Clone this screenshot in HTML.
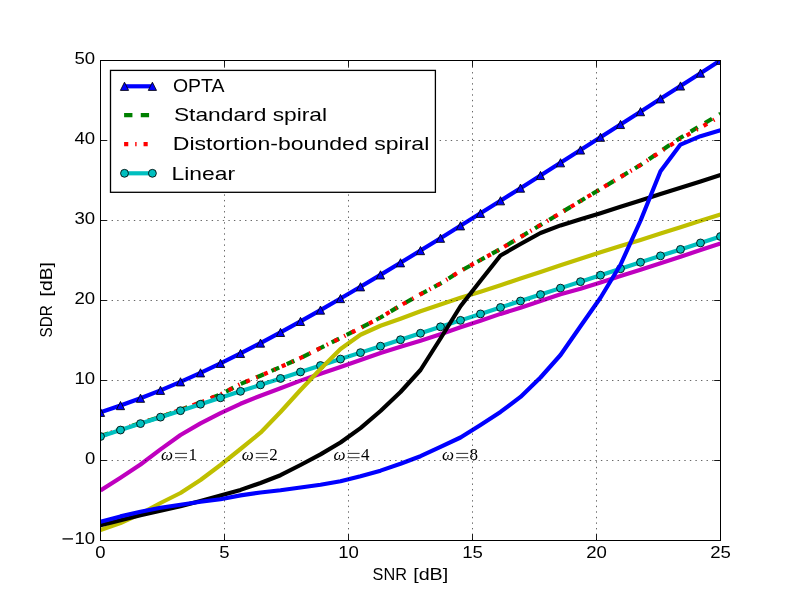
<!DOCTYPE html>
<html><head><meta charset="utf-8"><title>SDR vs SNR</title>
<style>html,body{margin:0;padding:0;background:#fff}svg{display:block;will-change:transform}text{font-family:"Liberation Sans",sans-serif;fill:#000}.m{font-family:"Liberation Serif",serif}</style></head><body>
<svg width="800" height="600" viewBox="0 0 800 600">
<rect x="0" y="0" width="800" height="600" fill="#ffffff"/>
<defs><clipPath id="ax"><rect x="100.5" y="60.5" width="620" height="480"/></clipPath></defs>
<g clip-path="url(#ax)" fill="none" stroke-linejoin="round">
<polyline points="100.50,412.34 120.50,405.58 140.50,398.24 160.50,390.32 180.50,381.84 200.50,372.84 220.50,363.36 240.50,353.43 260.50,343.09 280.50,332.40 300.50,321.39 320.50,310.09 340.50,298.55 360.50,286.80 380.50,274.87 400.50,262.79 420.50,250.58 440.50,238.25 460.50,225.83 480.50,213.33 500.50,200.76 520.50,188.14 540.50,175.47 560.50,162.76 580.50,150.02 600.50,137.25 620.50,124.46 640.50,111.65 660.50,98.83 680.50,85.99 700.50,73.14 720.50,60.28" stroke="#0000ff" stroke-width="4.17"/>
<g fill="#0000ff" stroke="#000" stroke-width="0.85" stroke-linejoin="miter">
<path d="M100.50 408.24 L96.40 416.44 L104.60 416.44 Z"/>
<path d="M120.50 401.48 L116.40 409.68 L124.60 409.68 Z"/>
<path d="M140.50 394.14 L136.40 402.34 L144.60 402.34 Z"/>
<path d="M160.50 386.22 L156.40 394.42 L164.60 394.42 Z"/>
<path d="M180.50 377.74 L176.40 385.94 L184.60 385.94 Z"/>
<path d="M200.50 368.74 L196.40 376.94 L204.60 376.94 Z"/>
<path d="M220.50 359.26 L216.40 367.46 L224.60 367.46 Z"/>
<path d="M240.50 349.33 L236.40 357.53 L244.60 357.53 Z"/>
<path d="M260.50 338.99 L256.40 347.19 L264.60 347.19 Z"/>
<path d="M280.50 328.30 L276.40 336.50 L284.60 336.50 Z"/>
<path d="M300.50 317.29 L296.40 325.49 L304.60 325.49 Z"/>
<path d="M320.50 305.99 L316.40 314.19 L324.60 314.19 Z"/>
<path d="M340.50 294.45 L336.40 302.65 L344.60 302.65 Z"/>
<path d="M360.50 282.70 L356.40 290.90 L364.60 290.90 Z"/>
<path d="M380.50 270.77 L376.40 278.97 L384.60 278.97 Z"/>
<path d="M400.50 258.69 L396.40 266.89 L404.60 266.89 Z"/>
<path d="M420.50 246.48 L416.40 254.68 L424.60 254.68 Z"/>
<path d="M440.50 234.15 L436.40 242.35 L444.60 242.35 Z"/>
<path d="M460.50 221.73 L456.40 229.93 L464.60 229.93 Z"/>
<path d="M480.50 209.23 L476.40 217.43 L484.60 217.43 Z"/>
<path d="M500.50 196.66 L496.40 204.86 L504.60 204.86 Z"/>
<path d="M520.50 184.04 L516.40 192.24 L524.60 192.24 Z"/>
<path d="M540.50 171.37 L536.40 179.57 L544.60 179.57 Z"/>
<path d="M560.50 158.66 L556.40 166.86 L564.60 166.86 Z"/>
<path d="M580.50 145.92 L576.40 154.12 L584.60 154.12 Z"/>
<path d="M600.50 133.15 L596.40 141.35 L604.60 141.35 Z"/>
<path d="M620.50 120.36 L616.40 128.56 L624.60 128.56 Z"/>
<path d="M640.50 107.55 L636.40 115.75 L644.60 115.75 Z"/>
<path d="M660.50 94.73 L656.40 102.93 L664.60 102.93 Z"/>
<path d="M680.50 81.89 L676.40 90.09 L684.60 90.09 Z"/>
<path d="M700.50 69.04 L696.40 77.24 L704.60 77.24 Z"/>
<path d="M720.50 56.18 L716.40 64.38 L724.60 64.38 Z"/>
</g>
<polyline points="100.50,436.00 120.50,429.50 140.50,423.00 160.50,416.90 180.50,409.80 200.50,402.40 220.50,394.40 240.50,384.00 260.50,375.75 280.50,367.00 300.50,358.00 320.50,348.00 340.50,338.00 360.50,328.00 380.50,317.50 400.50,305.50 420.50,294.25 440.50,283.50 460.50,271.00 480.50,260.00 500.50,249.00 520.50,237.00 540.50,225.00 560.50,213.00 580.50,201.00 600.50,189.00 620.50,177.00 640.50,165.00 660.50,151.25 680.50,137.75 700.50,125.60 720.50,113.75" stroke="#008000" stroke-width="4.17" stroke-dasharray="8.33 8.33"/>
<polyline points="100.50,436.00 120.50,429.50 140.50,423.00 160.50,416.90 180.50,409.80 200.50,402.40 220.50,394.40 240.50,384.00 260.50,375.75 280.50,367.00 300.50,358.00 320.50,348.00 340.50,338.00 360.50,328.00 380.50,317.50 400.50,305.50 420.50,294.25 440.50,283.50 460.50,271.00 480.50,260.00 500.50,249.00 520.50,237.00 540.50,225.00 560.50,213.00 580.50,201.00 600.50,189.00 620.50,177.00 640.50,165.00 660.50,151.75 680.50,138.95 700.50,127.60 720.50,116.05" stroke="#ff0000" stroke-width="4.17" stroke-dasharray="4.17 6.94 1.39 6.94"/>
<polyline points="100.50,436.50 120.50,430.05 140.50,423.60 160.50,417.15 180.50,410.69 200.50,404.24 220.50,397.79 240.50,391.34 260.50,384.89 280.50,378.44 300.50,371.98 320.50,365.53 340.50,359.08 360.50,352.63 380.50,346.18 400.50,339.73 420.50,333.27 440.50,326.82 460.50,320.37 480.50,313.92 500.50,307.47 520.50,301.02 540.50,294.56 560.50,288.11 580.50,281.66 600.50,275.21 620.50,268.76 640.50,262.31 660.50,255.85 680.50,249.40 700.50,242.95 720.50,236.50" stroke="#00bfbf" stroke-width="4.17"/>
<g fill="#00bfbf" stroke="#000" stroke-width="0.85">
<circle cx="100.50" cy="436.50" r="3.95"/>
<circle cx="120.50" cy="430.05" r="3.95"/>
<circle cx="140.50" cy="423.60" r="3.95"/>
<circle cx="160.50" cy="417.15" r="3.95"/>
<circle cx="180.50" cy="410.69" r="3.95"/>
<circle cx="200.50" cy="404.24" r="3.95"/>
<circle cx="220.50" cy="397.79" r="3.95"/>
<circle cx="240.50" cy="391.34" r="3.95"/>
<circle cx="260.50" cy="384.89" r="3.95"/>
<circle cx="280.50" cy="378.44" r="3.95"/>
<circle cx="300.50" cy="371.98" r="3.95"/>
<circle cx="320.50" cy="365.53" r="3.95"/>
<circle cx="340.50" cy="359.08" r="3.95"/>
<circle cx="360.50" cy="352.63" r="3.95"/>
<circle cx="380.50" cy="346.18" r="3.95"/>
<circle cx="400.50" cy="339.73" r="3.95"/>
<circle cx="420.50" cy="333.27" r="3.95"/>
<circle cx="440.50" cy="326.82" r="3.95"/>
<circle cx="460.50" cy="320.37" r="3.95"/>
<circle cx="480.50" cy="313.92" r="3.95"/>
<circle cx="500.50" cy="307.47" r="3.95"/>
<circle cx="520.50" cy="301.02" r="3.95"/>
<circle cx="540.50" cy="294.56" r="3.95"/>
<circle cx="560.50" cy="288.11" r="3.95"/>
<circle cx="580.50" cy="281.66" r="3.95"/>
<circle cx="600.50" cy="275.21" r="3.95"/>
<circle cx="620.50" cy="268.76" r="3.95"/>
<circle cx="640.50" cy="262.31" r="3.95"/>
<circle cx="660.50" cy="255.85" r="3.95"/>
<circle cx="680.50" cy="249.40" r="3.95"/>
<circle cx="700.50" cy="242.95" r="3.95"/>
<circle cx="720.50" cy="236.50" r="3.95"/>
</g>
<polyline points="100.50,490.40 120.50,477.75 140.50,464.50 160.50,449.40 180.50,435.00 200.50,423.40 220.50,413.20 240.50,403.80 260.50,395.70 280.50,388.30 300.50,380.60 320.50,373.80 340.50,367.00 360.50,360.00 380.50,353.00 400.50,346.80 420.50,340.70 440.50,334.20 460.50,327.30 480.50,320.80 500.50,313.90 520.50,307.75 540.50,301.00 560.50,294.25 580.50,288.80 600.50,282.40 620.50,276.00 640.50,269.75 660.50,263.30 680.50,256.70 700.50,250.10 720.50,243.50" stroke="#bf00bf" stroke-width="4.17"/>
<polyline points="100.50,530.00 120.50,523.00 140.50,513.80 160.50,503.00 180.50,493.00 200.50,480.00 220.50,465.00 240.50,449.00 260.50,432.70 280.50,412.00 300.50,390.00 320.50,369.00 340.50,349.00 360.50,334.75 380.50,325.75 400.50,318.70 420.50,311.30 440.50,304.50 460.50,297.70 480.50,291.70 500.50,285.25 520.50,278.50 540.50,271.90 560.50,265.30 580.50,258.75 600.50,252.30 620.50,246.00 640.50,240.00 660.50,233.60 680.50,227.20 700.50,220.80 720.50,214.40" stroke="#bfbf00" stroke-width="4.17"/>
<polyline points="100.50,525.30 120.50,520.30 140.50,515.30 160.50,510.70 180.50,506.30 200.50,501.00 220.50,495.60 240.50,489.90 260.50,483.00 280.50,475.20 300.50,465.00 320.50,454.40 340.50,442.50 360.50,428.10 380.50,411.00 400.50,392.00 420.50,370.00 440.50,338.50 460.50,306.25 480.50,280.75 500.50,255.50 520.50,244.00 540.50,233.00 560.50,225.40 580.50,219.35 600.50,213.15 620.50,206.70 640.50,200.40 660.50,194.00 680.50,187.70 700.50,181.40 720.50,175.00" stroke="#000000" stroke-width="4.17"/>
<polyline points="100.50,521.80 120.50,516.40 140.50,511.80 160.50,507.80 180.50,504.80 200.50,501.80 220.50,499.20 240.50,495.40 260.50,492.50 280.50,490.25 300.50,487.50 320.50,484.75 340.50,481.25 360.50,476.25 380.50,470.65 400.50,463.80 420.50,456.20 440.50,446.90 460.50,437.50 480.50,425.00 500.50,411.90 520.50,396.90 540.50,377.50 560.50,355.00 580.50,326.25 600.50,297.75 620.50,264.75 640.50,220.75 660.50,171.25 680.50,144.60 700.50,136.20 720.50,130.20" stroke="#0000ff" stroke-width="4.17"/>
</g>
<g stroke="#000" stroke-width="0.6" stroke-dasharray="1.39 4.17" fill="none">
<line x1="224.50" y1="540.5" x2="224.50" y2="60.5"/>
<line x1="348.50" y1="540.5" x2="348.50" y2="60.5"/>
<line x1="472.50" y1="540.5" x2="472.50" y2="60.5"/>
<line x1="596.50" y1="540.5" x2="596.50" y2="60.5"/>
<line x1="100.5" y1="460.50" x2="720.5" y2="460.50"/>
<line x1="100.5" y1="380.50" x2="720.5" y2="380.50"/>
<line x1="100.5" y1="300.50" x2="720.5" y2="300.50"/>
<line x1="100.5" y1="220.50" x2="720.5" y2="220.50"/>
<line x1="100.5" y1="140.50" x2="720.5" y2="140.50"/>
</g>
<rect x="100.5" y="60.5" width="620" height="480" fill="none" stroke="#000" stroke-width="1"/>
<g stroke="#000" stroke-width="0.9">
<line x1="100.50" y1="540.5" x2="100.50" y2="534.2"/>
<line x1="100.50" y1="60.5" x2="100.50" y2="66.8"/>
<line x1="224.50" y1="540.5" x2="224.50" y2="534.2"/>
<line x1="224.50" y1="60.5" x2="224.50" y2="66.8"/>
<line x1="348.50" y1="540.5" x2="348.50" y2="534.2"/>
<line x1="348.50" y1="60.5" x2="348.50" y2="66.8"/>
<line x1="472.50" y1="540.5" x2="472.50" y2="534.2"/>
<line x1="472.50" y1="60.5" x2="472.50" y2="66.8"/>
<line x1="596.50" y1="540.5" x2="596.50" y2="534.2"/>
<line x1="596.50" y1="60.5" x2="596.50" y2="66.8"/>
<line x1="720.50" y1="540.5" x2="720.50" y2="534.2"/>
<line x1="720.50" y1="60.5" x2="720.50" y2="66.8"/>
<line x1="100.5" y1="540.50" x2="106.8" y2="540.50"/>
<line x1="720.5" y1="540.50" x2="714.2" y2="540.50"/>
<line x1="100.5" y1="460.50" x2="106.8" y2="460.50"/>
<line x1="720.5" y1="460.50" x2="714.2" y2="460.50"/>
<line x1="100.5" y1="380.50" x2="106.8" y2="380.50"/>
<line x1="720.5" y1="380.50" x2="714.2" y2="380.50"/>
<line x1="100.5" y1="300.50" x2="106.8" y2="300.50"/>
<line x1="720.5" y1="300.50" x2="714.2" y2="300.50"/>
<line x1="100.5" y1="220.50" x2="106.8" y2="220.50"/>
<line x1="720.5" y1="220.50" x2="714.2" y2="220.50"/>
<line x1="100.5" y1="140.50" x2="106.8" y2="140.50"/>
<line x1="720.5" y1="140.50" x2="714.2" y2="140.50"/>
<line x1="100.5" y1="60.50" x2="106.8" y2="60.50"/>
<line x1="720.5" y1="60.50" x2="714.2" y2="60.50"/>
</g>
<g font-size="16.6">
<text x="100.50" y="557.9" text-anchor="middle" textLength="10.3" lengthAdjust="spacingAndGlyphs">0</text>
<text x="224.50" y="557.9" text-anchor="middle" textLength="10.3" lengthAdjust="spacingAndGlyphs">5</text>
<text x="348.50" y="557.9" text-anchor="middle" textLength="20.7" lengthAdjust="spacingAndGlyphs">10</text>
<text x="472.50" y="557.9" text-anchor="middle" textLength="20.7" lengthAdjust="spacingAndGlyphs">15</text>
<text x="596.50" y="557.9" text-anchor="middle" textLength="20.7" lengthAdjust="spacingAndGlyphs">20</text>
<text x="720.50" y="557.9" text-anchor="middle" textLength="20.7" lengthAdjust="spacingAndGlyphs">25</text>
<text x="95.2" y="543.90" text-anchor="end" textLength="20.7" lengthAdjust="spacingAndGlyphs">10</text>
<text x="95.2" y="463.90" text-anchor="end" textLength="10.3" lengthAdjust="spacingAndGlyphs">0</text>
<text x="95.2" y="383.90" text-anchor="end" textLength="20.7" lengthAdjust="spacingAndGlyphs">10</text>
<text x="95.2" y="303.90" text-anchor="end" textLength="20.7" lengthAdjust="spacingAndGlyphs">20</text>
<text x="95.2" y="223.90" text-anchor="end" textLength="20.7" lengthAdjust="spacingAndGlyphs">30</text>
<text x="95.2" y="143.90" text-anchor="end" textLength="20.7" lengthAdjust="spacingAndGlyphs">40</text>
<text x="95.2" y="63.90" text-anchor="end" textLength="20.7" lengthAdjust="spacingAndGlyphs">50</text>
</g>
<line x1="62.5" y1="538.9" x2="73" y2="538.9" stroke="#000" stroke-width="1.3"/>
<text y="579.6" font-size="16.5"><tspan x="372.6" textLength="34.3" lengthAdjust="spacingAndGlyphs">SNR</tspan><tspan> </tspan><tspan x="413.2" textLength="35" lengthAdjust="spacingAndGlyphs">[dB]</tspan></text>
<text transform="translate(51.7 337.4) rotate(-90)" font-size="16.5"><tspan x="0" textLength="32.2" lengthAdjust="spacingAndGlyphs">SDR</tspan><tspan> </tspan><tspan x="41" textLength="34.3" lengthAdjust="spacingAndGlyphs">[dB]</tspan></text>
<text class="m" x="160.9" y="459.5" font-size="17" font-style="italic">ω</text>
<path d="M175.0 453.4 h12 M175.0 457.7 h12" stroke="#000" stroke-width="0.8" fill="none"/>
<text class="m" x="188.4" y="459.5" font-size="17">1</text>
<text class="m" x="241.7" y="459.5" font-size="17" font-style="italic">ω</text>
<path d="M255.8 453.4 h12 M255.8 457.7 h12" stroke="#000" stroke-width="0.8" fill="none"/>
<text class="m" x="269.2" y="459.5" font-size="17">2</text>
<text class="m" x="333.5" y="459.5" font-size="17" font-style="italic">ω</text>
<path d="M347.6 453.4 h12 M347.6 457.7 h12" stroke="#000" stroke-width="0.8" fill="none"/>
<text class="m" x="361.0" y="459.5" font-size="17">4</text>
<text class="m" x="442.1" y="459.5" font-size="17" font-style="italic">ω</text>
<path d="M456.2 453.4 h12 M456.2 457.7 h12" stroke="#000" stroke-width="0.8" fill="none"/>
<text class="m" x="469.6" y="459.5" font-size="17">8</text>
<rect x="110.5" y="70.4" width="324.9" height="121.9" fill="#fff" stroke="#000" stroke-width="1.3"/>
<line x1="124.5" y1="86.3" x2="152.4" y2="86.3" stroke="#0000ff" stroke-width="4.17"/>
<path d="M124.50 82.20 L120.40 90.40 L128.60 90.40 Z" fill="#0000ff" stroke="#000" stroke-width="0.85"/>
<path d="M152.40 82.20 L148.30 90.40 L156.50 90.40 Z" fill="#0000ff" stroke="#000" stroke-width="0.85"/>
<line x1="124.1" y1="115.2" x2="152.4" y2="115.2" stroke="#008000" stroke-width="4.17" stroke-dasharray="8.33 8.33"/>
<line x1="124.1" y1="144.1" x2="152.4" y2="144.1" stroke="#ff0000" stroke-width="4.17" stroke-dasharray="4.17 6.94 1.39 6.94"/>
<line x1="124.5" y1="173.3" x2="152.4" y2="173.3" stroke="#00bfbf" stroke-width="4.17"/>
<circle cx="124.50" cy="173.3" r="3.95" fill="#00bfbf" stroke="#000" stroke-width="0.85"/>
<circle cx="152.40" cy="173.3" r="3.95" fill="#00bfbf" stroke="#000" stroke-width="0.85"/>
<g font-size="19">
<text x="173" y="92.3" textLength="51.5" lengthAdjust="spacingAndGlyphs">OPTA</text>
<text x="173.9" y="121.3" textLength="153.2" lengthAdjust="spacingAndGlyphs">Standard spiral</text>
<text x="172.8" y="150.1" textLength="256.5" lengthAdjust="spacingAndGlyphs">Distortion-bounded spiral</text>
<text x="171.6" y="179.5" textLength="63.5" lengthAdjust="spacingAndGlyphs">Linear</text>
</g>
</svg></body></html>
